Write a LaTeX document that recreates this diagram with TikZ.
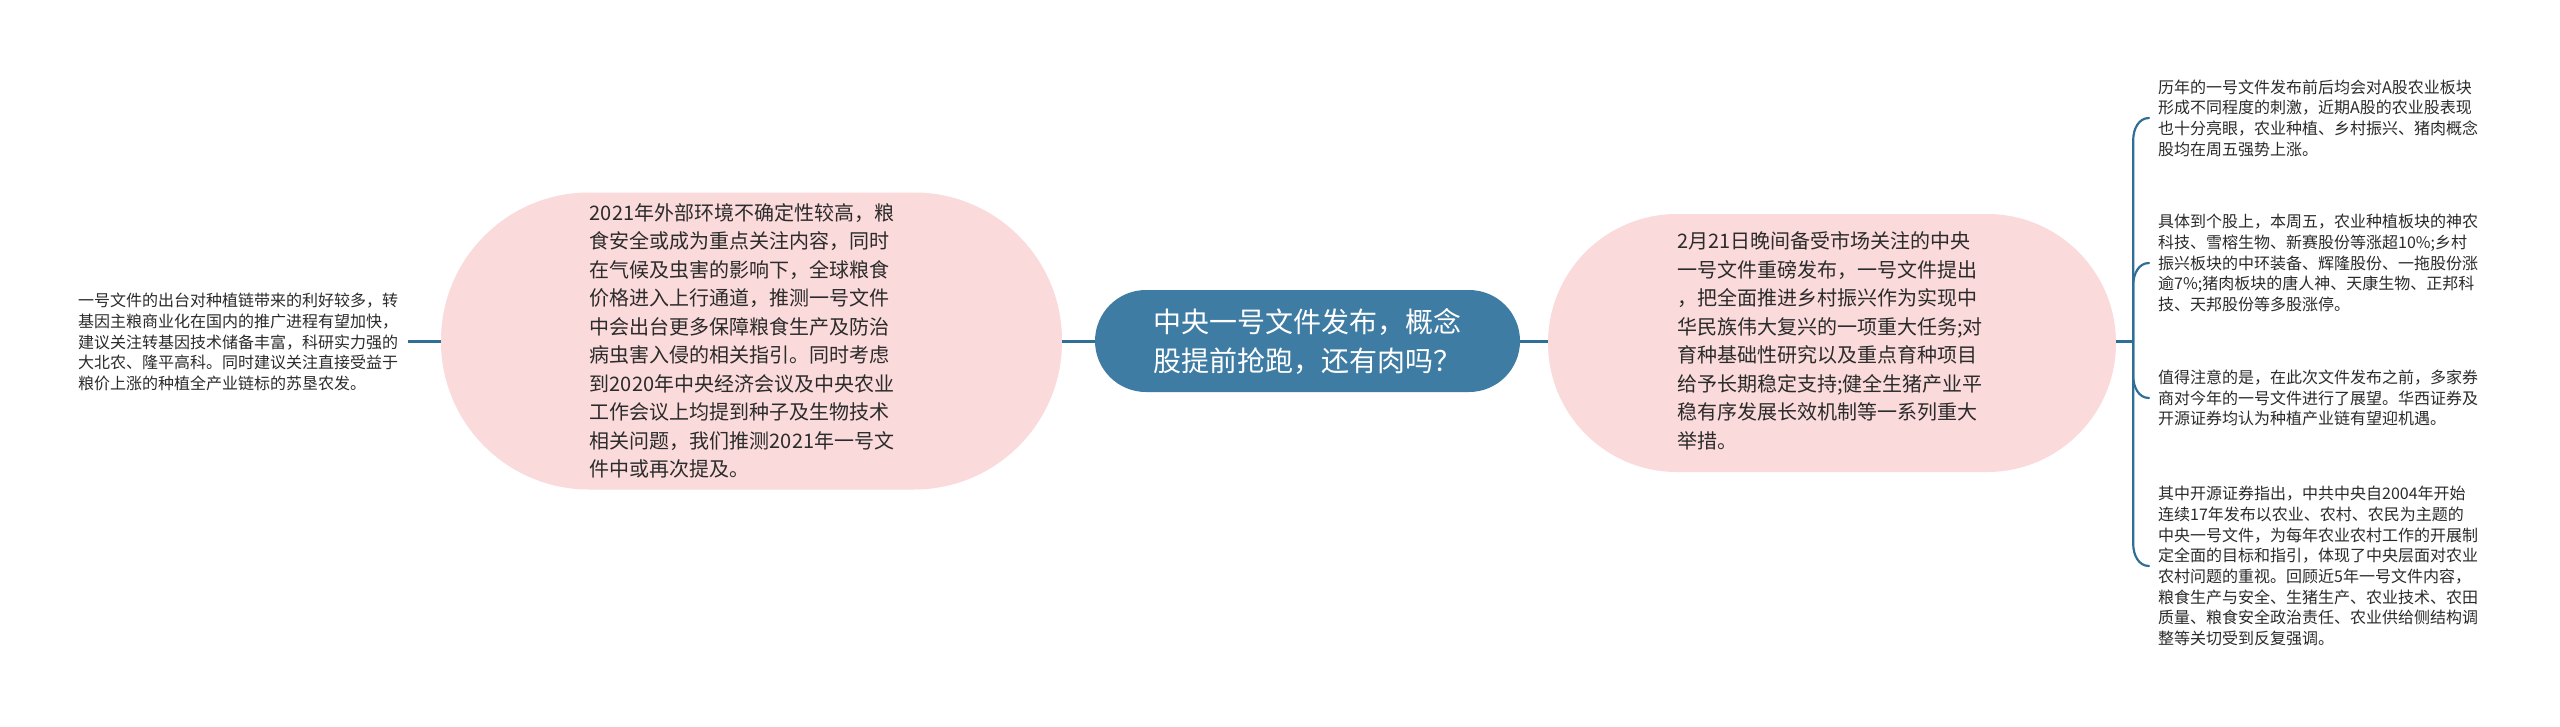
\documentclass[tikz,border=0pt]{standalone}
\usepackage{fontspec}
\setmainfont{Noto Sans CJK SC}
\definecolor{pinkfill}{HTML}{FADADA}
\definecolor{mainblue}{HTML}{3E7CA4}
\definecolor{linkblue}{HTML}{2F6E97}
\definecolor{txt}{HTML}{2B2B2B}
\tikzset{
  pinkbox/.style={fill=pinkfill, draw=none},
  pinktext/.style={inner sep=0pt, align=left, text=txt, font=\fontsize{20pt}{28.5pt}\selectfont},
  centerbox/.style={fill=mainblue, draw=none, align=left, text=white, font=\fontsize{28pt}{39pt}\selectfont, minimum width=425pt, minimum height=102pt, rounded corners=51pt},
  leaftext/.style={inner sep=0pt, anchor=west, align=left, text=txt, font=\fontsize{16pt}{20.7pt}\selectfont},
  conn/.style={draw=linkblue, line width=3pt},
  branch/.style={draw=linkblue, line width=2.2pt, line cap=round}
}
\begin{document}
\begin{tikzpicture}[x=1pt,y=-1pt]
\useasboundingbox (0,0) rectangle (2560,726);
\fill[white] (0,0) rectangle (2560,726);

\node[centerbox] (c) at (1307.5,341) {中央一号文件发布，概念\\股提前抢跑，还有肉吗？};

\node[pinkbox, minimum width=621pt, minimum height=297pt, rounded corners=148pt] (lp) at (751.5,341) {};
\node[pinktext] (lpt) at (742,341) {2021年外部环境不确定性较高，粮\\食安全或成为重点关注内容，同时\\在气候及虫害的影响下，全球粮食\\价格进入上行通道，推测一号文件\\中会出台更多保障粮食生产及防治\\病虫害入侵的相关指引。同时考虑\\到2020年中央经济会议及中央农业\\工作会议上均提到种子及生物技术\\相关问题，我们推测2021年一号文\\件中或再次提及。};

\node[pinkbox, minimum width=568pt, minimum height=258pt, rounded corners=129pt] (rp) at (1832,343) {};
\node[pinktext] (rpt) at (1830,341) {2月21日晚间备受市场关注的中央\\一号文件重磅发布，一号文件提出\\，把全面推进乡村振兴作为实现中\\华民族伟大复兴的一项重大任务;对\\育种基础性研究以及重点育种项目\\给予长期稳定支持;健全生猪产业平\\稳有序发展长效机制等一系列重大\\举措。};

\node[leaftext] (lt) at (78,342) {一号文件的出台对种植链带来的利好较多，转\\基因主粮商业化在国内的推广进程有望加快，\\建议关注转基因技术储备丰富，科研实力强的\\大北农、隆平高科。同时建议关注直接受益于\\粮价上涨的种植全产业链标的苏垦农发。};

\node[leaftext] (t1) at (2158,118) {历年的一号文件发布前后均会对A股农业板块\\形成不同程度的刺激，近期A股的农业股表现\\也十分亮眼，农业种植、乡村振兴、猪肉概念\\股均在周五强势上涨。};
\node[leaftext] (t2) at (2158,263) {具体到个股上，本周五，农业种植板块的神农\\科技、雪榕生物、新赛股份等涨超10\%;乡村\\振兴板块的中环装备、辉隆股份、一拖股份涨\\逾7\%;猪肉板块的唐人神、天康生物、正邦科\\技、天邦股份等多股涨停。};
\node[leaftext] (t3) at (2158,398) {值得注意的是，在此次文件发布之前，多家券\\商对今年的一号文件进行了展望。华西证券及\\开源证券均认为种植产业链有望迎机遇。};
\node[leaftext] (t4) at (2158,566) {其中开源证券指出，中共中央自2004年开始\\连续17年发布以农业、农村、农民为主题的\\中央一号文件，为每年农业农村工作的开展制\\定全面的目标和指引，体现了中央层面对农业\\农村问题的重视。回顾近5年一号文件内容，\\粮食生产与安全、生猪生产、农业技术、农田\\质量、粮食安全政治责任、农业供给侧结构调\\整等关切受到反复强调。};

% connectors
\draw[conn] (lp.west) -- ([xshift=10pt]lt.east |- lp.west);
\draw[conn] (lp.east) -- (c.west);
\draw[conn] (c.east) -- (c.east -| rp.west);
\coordinate (j) at ([xshift=17pt]c.east -| rp.east);
\draw[conn] (c.east -| rp.east) -- (j);
\draw[branch] (j) -- ([yshift=-22pt]j |- t1.west) to[out=90,in=180] ([xshift=-9pt]t1.west);
\draw[branch] (j) -- ([yshift=-22pt]j |- t2.west) to[out=90,in=180] ([xshift=-9pt]t2.west);
\draw[branch] (j) -- ([yshift=22pt]j |- t3.west) to[out=-90,in=180] ([xshift=-9pt]t3.west);
\draw[branch] (j) -- ([yshift=22pt]j |- t4.west) to[out=-90,in=180] ([xshift=-9pt]t4.west);
\end{tikzpicture}
\end{document}
